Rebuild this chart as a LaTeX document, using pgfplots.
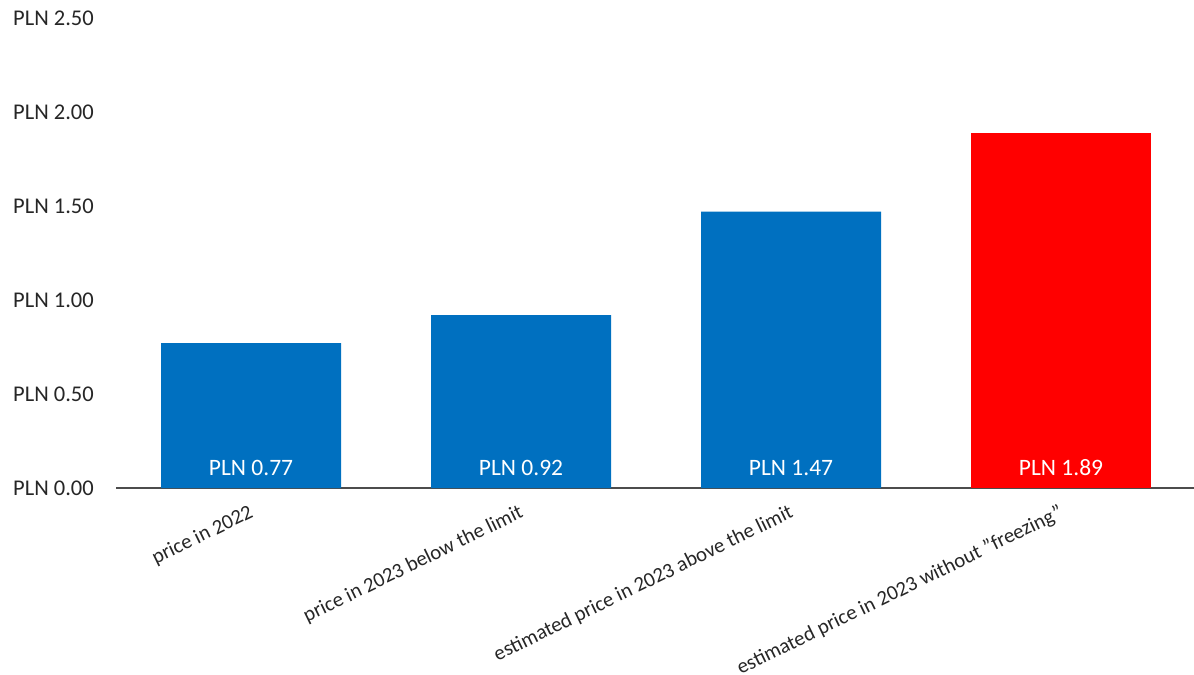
\documentclass[border=0pt]{standalone}
\usepackage{pgfplots}
\pgfplotsset{compat=1.18}
\usepackage{fontspec}
\setmainfont{Carlito}
\definecolor{barblue}{RGB}{0,112,192}
\definecolor{barred}{RGB}{255,0,0}
\begin{document}
\begin{tikzpicture}
\path[use as bounding box] (0,0) rectangle (1194bp,675bp);
\begin{axis}[
 at={(116bp,187bp)}, anchor=south west,
 scale only axis, width=1080bp, height=470bp,
 xmin=-0.5, xmax=3.5, ymin=0, ymax=2.5,
 axis x line=bottom, axis y line=left,
 x axis line style={-, draw=black!70, line width=1.2bp},
 y axis line style={draw=none},
 xtick={0,1,2,3},
 xticklabels={price in 2022, price in 2023 below the limit, estimated price in 2023 above the limit, estimated price in 2023 without \symbol{34}freezing\symbol{34}},
 ytick={0,0.5,1,1.5,2,2.5},
 yticklabels={PLN 0.00, PLN 0.50, PLN 1.00, PLN 1.50, PLN 2.00, PLN 2.50},
 major tick length=0pt,
 font=\fontsize{22.5bp}{27bp}\selectfont,
 xticklabel style={anchor=north east, inner sep=0pt, xshift=-3bp, yshift=-15.5bp, rotate=26, text=black!85, font=\fontsize{20.8bp}{25bp}\selectfont},
 yticklabel style={anchor=east, inner sep=0pt, xshift=-22bp, text=black!85},
 clip=false,
]
\addplot[ybar, bar width=180bp, bar shift=0pt, fill=barblue, draw=none] coordinates {(0,0.77) (1,0.92) (2,1.47)};
\addplot[ybar, bar width=180bp, bar shift=0pt, fill=barred, draw=none] coordinates {(3,1.89)};
\addplot[only marks, mark=none, nodes near coords, point meta=explicit symbolic,
  every node near coord/.append style={text=white, anchor=center, yshift=20bp, font=\fontsize{23.5bp}{28bp}\selectfont}]
  coordinates {(0,0) [PLN 0.77] (1,0) [PLN 0.92] (2,0) [PLN 1.47] (3,0) [PLN 1.89]};
\end{axis}
\end{tikzpicture}
\end{document}
